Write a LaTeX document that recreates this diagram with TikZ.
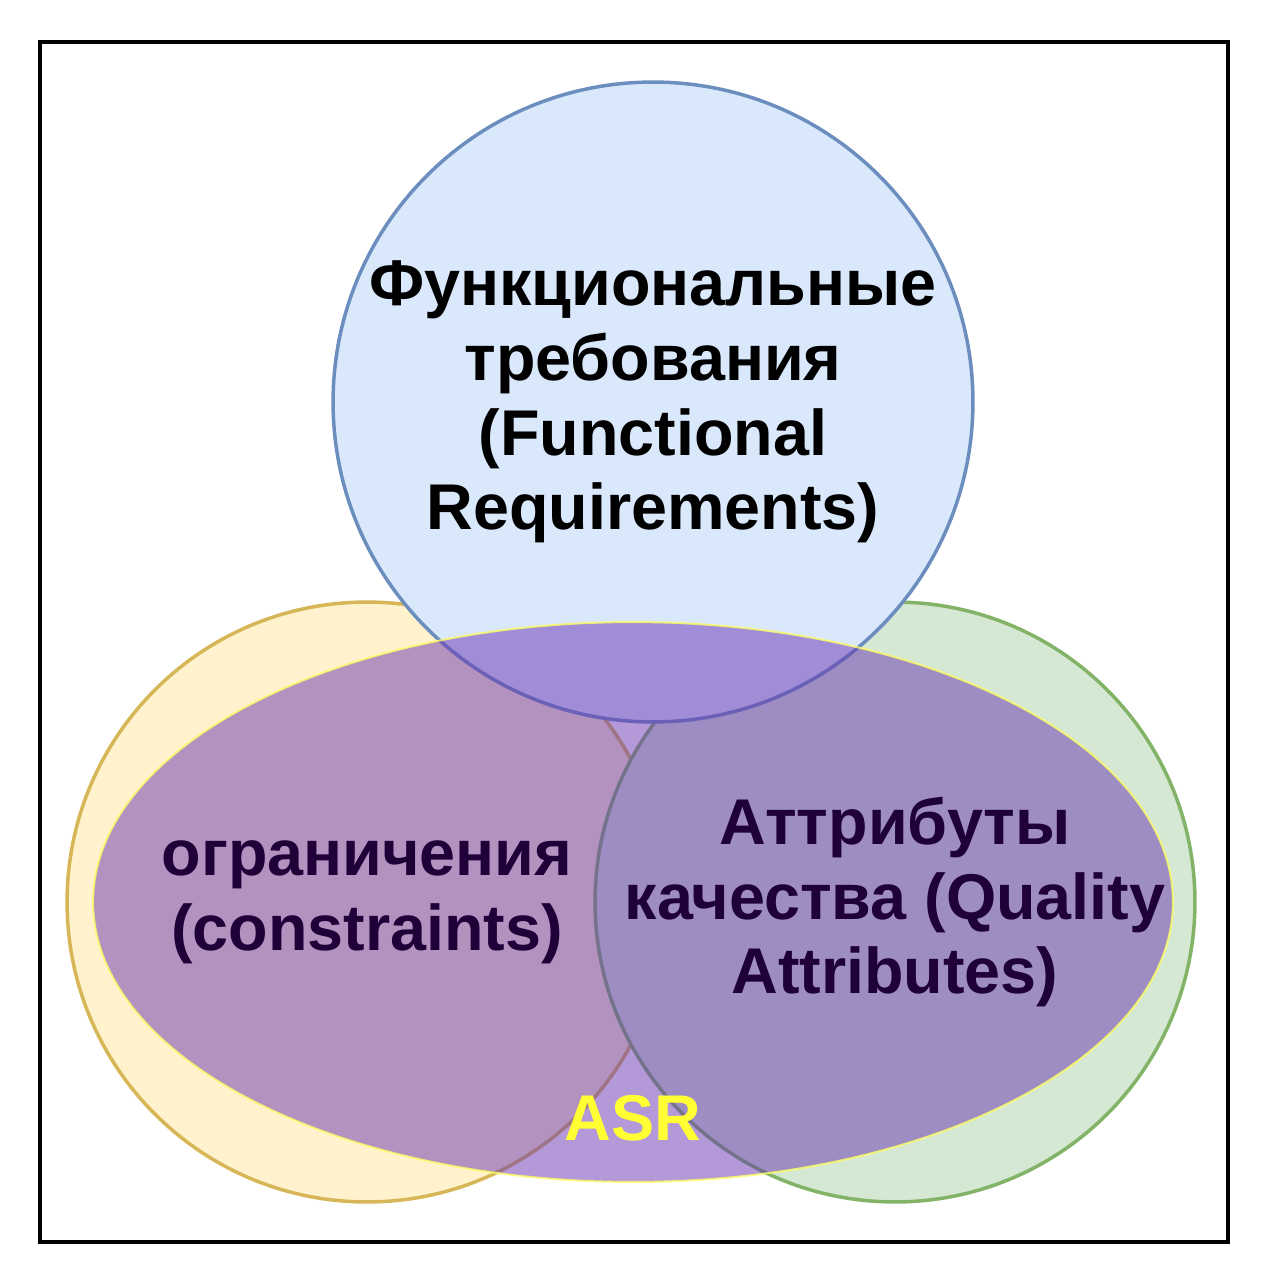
\documentclass[tikz,border=0pt]{standalone}
\usepackage{fontspec}
\setmainfont{Liberation Sans}
\usepackage{tikz}
\usetikzlibrary{shapes.geometric}
\definecolor{FRFill}{HTML}{DAE8FC}
\definecolor{FRLine}{HTML}{6C8EBF}
\definecolor{ConFill}{HTML}{FFF2CC}
\definecolor{ConLine}{HTML}{D6B656}
\definecolor{QAFill}{HTML}{D5E8D4}
\definecolor{QALine}{HTML}{82B366}
\definecolor{ASRFill}{HTML}{6933B3}
\definecolor{ASRLine}{HTML}{FFFF66}
\definecolor{ASRText}{HTML}{FFFF33}
\definecolor{SetText}{HTML}{1F0039}

\tikzset{
  venncircle/.style={circle,inner sep=0pt,line width=0.07cm},
  venntext/.style={align=center,font=\bfseries\fontsize{36.8}{42.5}\selectfont},
}

\begin{document}
\begin{tikzpicture}[x=0.02cm,y=-0.02cm]
  \useasboundingbox (0,0) rectangle (1272,1284);
  \draw[line width=0.08cm] (40,42) rectangle (1228,1242);
  % the three sets
  \node[venncircle,minimum size=12cm,fill=ConFill,draw=ConLine]
    (conCirc) at (367,902) {};
  \node[venncircle,minimum size=12cm,fill=QAFill,draw=QALine]
    (qaCirc) at (895,902) {};
  \node[venncircle,minimum size=12.8cm,fill=FRFill,draw=FRLine]
    (frCirc) at (653,402) {};
  % the ASR overlap, see-through
  \node[ellipse,minimum width=21.6cm,minimum height=11.2cm,inner sep=0pt,
        fill=ASRFill,fill opacity=0.5,draw=ASRLine,draw opacity=0.8,
        line width=0.04cm]
    (asrEll) at (633,902) {};
  % labels
  \node[venntext] (frText) at (frCirc)
    {Функциональные\\требования\\(Functional\\Requirements)};
  \node[venntext,SetText] (conText) at (conCirc)
    {ограничения\\(constraints)};
  \node[venntext,SetText] (qaText) at (qaCirc)
    {Аттрибуты\\качества (Quality\\Attributes)};
  \node[venntext,ASRText] (asrText) at (633,1118) {ASR};
\end{tikzpicture}
\end{document}
